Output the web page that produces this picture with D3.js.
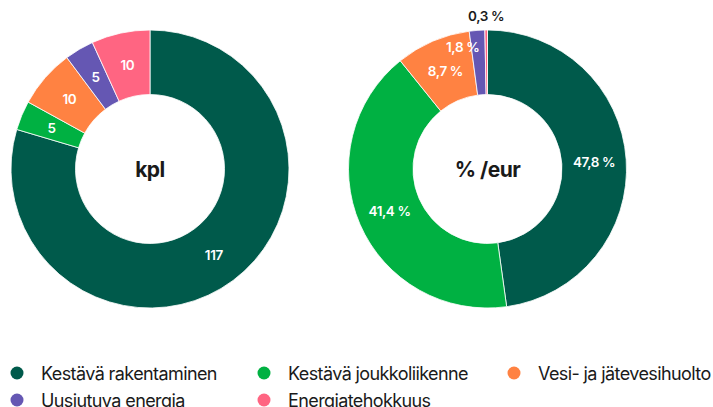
<!DOCTYPE html>
<html lang="fi">
<head>
  <meta charset="utf-8">
  <title>Donitsit</title>
  <script src="https://d3js.org/d3.v7.min.js"></script>
  <style>
    html, body { margin: 0; padding: 0; background: #fff; }
    body { width: 713px; height: 407px; overflow: hidden; font-family: Inter, "Noto Sans", sans-serif; }
    .slice-label { font-size: 13.5px; font-weight: 600; fill: #fff; letter-spacing: -0.4px; }
    .center-label { font-size: 21px; font-weight: 700; fill: #1a1a1a; letter-spacing: -0.5px; }
    .legend text { font-size: 18px; fill: #1a1a1a; letter-spacing: -0.6px; }
  </style>
</head>
<body>
  <svg id="chart" width="713" height="407"></svg>
  <script>
    const categories = ['Kestävä rakentaminen', 'Kestävä joukkoliikenne', 'Vesi- ja jätevesihuolto', 'Uusiutuva energia', 'Energiatehokkuus'];
    const colors = ['#005a4b', '#00b142', '#ff8242', '#6557b3', '#ff6582'];
    const countValues = [117, 5, 10, 5, 10];
    const euroShares = [47.8, 41.4, 8.7, 1.8, 0.3];

    const svg = d3.select('#chart');
    const outerR = 139, innerR = 74.5;

    const pie = d3.pie().sort(null).value(d => d.value);
    const arc = d3.arc().innerRadius(innerR).outerRadius(outerR);

    function drawDonut(cx, cy, values, title, fmt) {
      const g = svg.append('g').attr('transform', `translate(${cx},${cy})`);
      const data = values.map((v, i) => ({ value: v, i }));
      const arcs = pie(data);
      const total = d3.sum(values);

      g.selectAll('path')
        .data(arcs)
        .enter().append('path')
          .attr('d', arc)
          .attr('fill', d => colors[d.data.i])
          .attr('stroke', '#fff')
          .attr('stroke-width', 0.8);

      arcs.forEach(d => {
        const share = d.data.value / total;
        const mid = (d.startAngle + d.endAngle) / 2;
        let x, y, anchor = 'middle', fill = null;
        if (share < 0.01) {
          // tiny slice: label outside the ring
          const r = outerR + 14;
          x = Math.sin(mid) * r; y = -Math.cos(mid) * r;
          fill = '#1a1a1a';
        } else if (share < 0.03) {
          // small slice: label sits just left of it
          const r = 122;
          x = Math.sin(mid) * r + 1; y = -Math.cos(mid) * r;
          anchor = 'end';
        } else {
          [x, y] = arc.centroid(d);
        }
        const t = g.append('text')
          .attr('class', 'slice-label')
          .attr('x', x).attr('y', y)
          .attr('text-anchor', anchor)
          .attr('dominant-baseline', 'central')
          .text(fmt(d.data.value));
        if (fill) t.style('fill', fill);
      });

      g.append('text')
        .attr('class', 'center-label')
        .attr('text-anchor', 'middle')
        .attr('dominant-baseline', 'central')
        .text(title);
    }

    drawDonut(150, 169, countValues, 'kpl', v => String(v));
    drawDonut(487.5, 169, euroShares, '% /eur', v => d3.format('.1f')(v).replace('.', ',') + ' %');

    // Legend
    const legendX = [17, 264, 514];
    const legend = svg.append('g').attr('class', 'legend');
    categories.forEach((c, i) => {
      const col = i % 3, row = Math.floor(i / 3);
      const item = legend.append('g')
        .attr('transform', `translate(${legendX[col]},${373 + row * 27})`);
      item.append('circle').attr('r', 6.5).attr('fill', colors[i]);
      item.append('text')
        .attr('x', 24)
        .attr('dominant-baseline', 'central')
        .text(c);
    });
  </script>
</body>
</html>
